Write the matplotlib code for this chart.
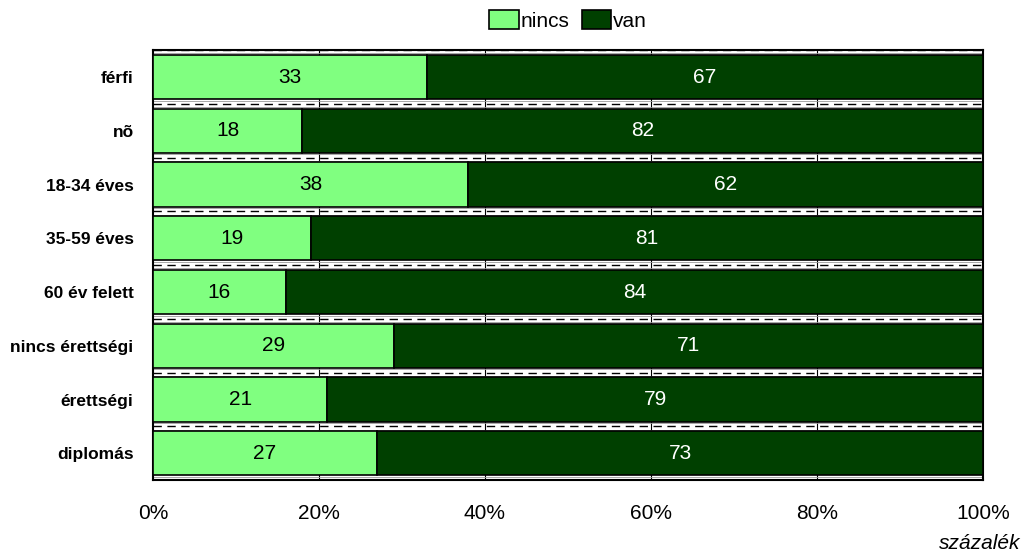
import matplotlib
matplotlib.use("Agg")
import matplotlib.pyplot as plt
import numpy as np

categories = ["férfi", "nõ", "18-34 éves", "35-59 éves", "60 év felett",
              "nincs érettségi", "érettségi", "diplomás"]
nincs = [33, 18, 38, 19, 16, 29, 21, 27]
van = [67, 82, 62, 81, 84, 71, 79, 73]
xticks = [0, 20, 40, 60, 80, 100]
xticklabels = ["0%", "20%", "40%", "60%", "80%", "100%"]

fam = "Liberation Sans"

fig = plt.figure(figsize=(10.22, 5.57), dpi=100)
ax = fig.add_axes([0.1497, 0.138, 0.8121, 0.772])

n = len(categories)
y = np.arange(n)
light = "#80ff80"
dark = "#004000"
h = 0.82
ax.barh(y, nincs, height=h, color=light, edgecolor="black", linewidth=1.2, zorder=3, label="nincs")
ax.barh(y, van, left=nincs, height=h, color=dark, edgecolor="black", linewidth=1.2, zorder=3, label="van")

for i in range(n):
    ax.text(nincs[i] / 2, y[i], str(nincs[i]), ha="center", va="center",
            fontsize=15, family=fam, color="black", zorder=4)
    ax.text(nincs[i] + van[i] / 2, y[i], str(van[i]), ha="center", va="center",
            fontsize=15, family=fam, color="white", zorder=4)

for b in np.arange(-0.5, n + 0.5, 1.0):
    ax.axhline(b, color="black", linewidth=1.0, linestyle=(0, (6, 4)), zorder=2)
    ax.axhline(b - 0.06, color="#999999", linewidth=0.6, zorder=2)
    ax.axhline(b + 0.06, color="#999999", linewidth=0.6, zorder=2)

for xv in xticks[1:-1]:
    ax.axvline(xv, color="black", linewidth=0.8, zorder=1)

ax.set_xlim(0, 100)
ax.set_ylim(n - 0.5, -0.5)
ax.set_yticks(y)
ax.set_yticklabels(categories, fontsize=12.5, fontweight="bold", family=fam)
ax.set_xticks(xticks)
ax.set_xticklabels(xticklabels, fontsize=15, family=fam)
ax.tick_params(axis="y", length=0, pad=14)
ax.tick_params(axis="x", length=0, pad=17)
for s in ax.spines.values():
    s.set_linewidth(1.5)

fig.text(0.998, 0.008, "százalék", ha="right", va="bottom", fontsize=15,
         style="italic", family=fam)

leg = fig.legend(loc="upper center", bbox_to_anchor=(0.556, 1.015), ncol=2, frameon=False,
                 prop={"family": fam, "size": 15}, handlelength=1.4, handleheight=1.0,
                 handletextpad=0.1, columnspacing=0.6)

fig.savefig("out.png", dpi=100)
